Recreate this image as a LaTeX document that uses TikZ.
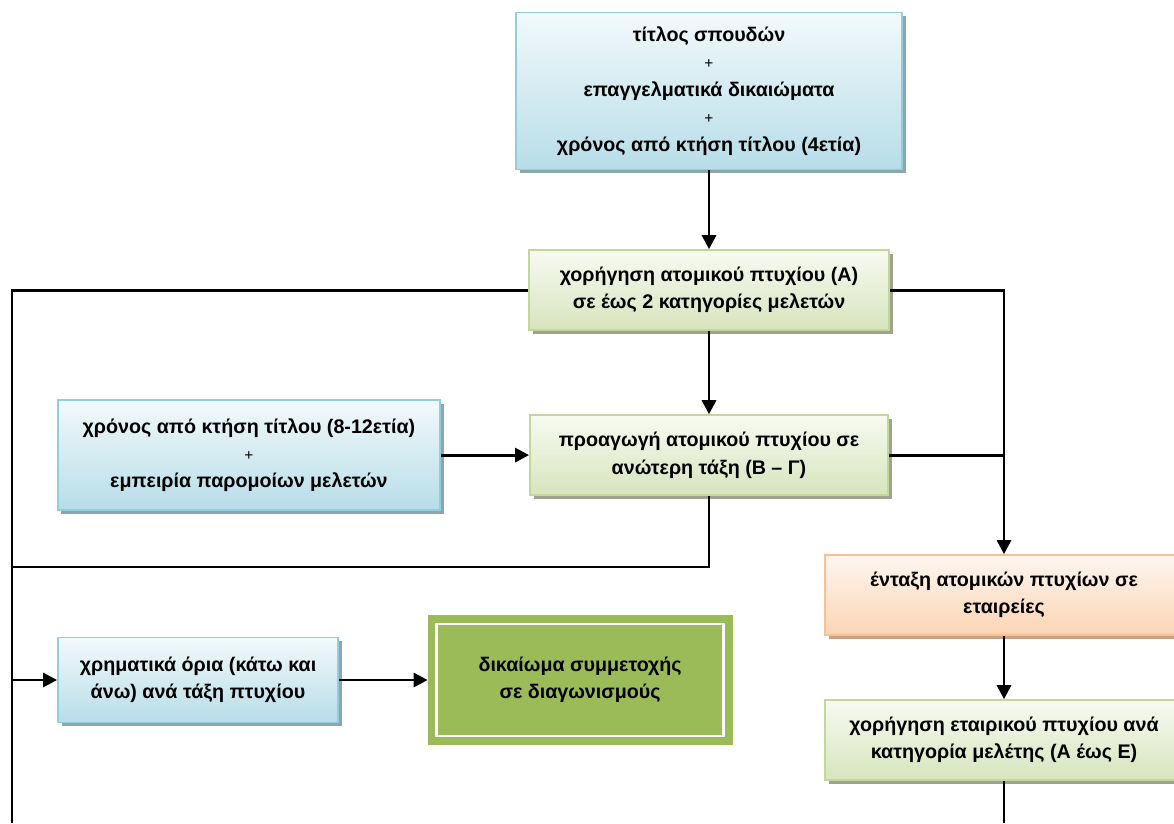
\documentclass[tikz,border=0pt]{standalone}
\usepackage{fontspec}
\setmainfont{Liberation Sans}
\usepackage{tikz}
\usetikzlibrary{shapes,arrows.meta,shadows}
\definecolor{bluetop}{HTML}{F2F9FB}
\definecolor{bluebot}{HTML}{B7DDE8}
\definecolor{blueedge}{HTML}{93CDDD}
\definecolor{blueshade}{HTML}{8BA6AE}
\definecolor{greentop}{HTML}{F7FAF1}
\definecolor{greenbot}{HTML}{D7E4BD}
\definecolor{greenedge}{HTML}{C3D69B}
\definecolor{greenshade}{HTML}{9DA38C}
\definecolor{orangetop}{HTML}{FEF6F0}
\definecolor{orangebot}{HTML}{FBD4B4}
\definecolor{orangeedge}{HTML}{FAC090}
\definecolor{orangeshade}{HTML}{C7A186}
\definecolor{olive}{HTML}{9BBB59}
\newcommand{\addsign}{{\mdseries\fontsize{11}{19.5}\selectfont +}}
\tikzstyle{box} = [rectangle, align=center, line width=1.2pt,
    font=\fontsize{14}{19.5}\selectfont\bfseries, inner sep=2pt]
\tikzstyle{blueblock} = [box, draw=blueedge, top color=bluetop, bottom color=bluebot,
    drop shadow={shadow xshift=2.6pt, shadow yshift=-2.6pt, fill=blueshade, opacity=1}]
\tikzstyle{greenblock} = [box, draw=greenedge, top color=greentop, bottom color=greenbot,
    drop shadow={shadow xshift=2.6pt, shadow yshift=-2.6pt, fill=greenshade, opacity=1}]
\tikzstyle{orangeblock} = [box, draw=orangeedge, top color=orangetop, bottom color=orangebot,
    drop shadow={shadow xshift=2.6pt, shadow yshift=-2.6pt, fill=orangeshade, opacity=1}]
\tikzstyle{goal} = [box, fill=olive, draw=olive, line width=5.4pt, double=white,
    double distance=2pt, outer sep=6.4pt]
\tikzstyle{line} = [draw, line width=2.1pt, -{Triangle[length=10pt, width=10pt]}]
\tikzstyle{plain} = [draw, line width=2.1pt]

\begin{document}
\begin{tikzpicture}[x=0.025cm, y=0.025cm, auto]
    \useasboundingbox (0,0) rectangle (1174,-823);
    % Place nodes
    \node [blueblock, minimum width=9.65cm, minimum height=3.925cm] (init) at (709,-91)
        {τίτλος σπουδών\\ \addsign\\ επαγγελματικά δικαιώματα\\ \addsign\\ χρόνος από κτήση τίτλου (4ετία)};
    \node [greenblock, minimum width=9cm, minimum height=2cm, below of=init, node distance=4.975cm] (grantA)
        {χορήγηση ατομικού πτυχίου (Α)\\σε έως 2 κατηγορίες μελετών};
    \node [greenblock, minimum width=8.95cm, minimum height=2cm, below of=grantA, node distance=4.125cm] (promote)
        {προαγωγή ατομικού πτυχίου σε\\ανώτερη τάξη (Β – Γ)};
    \node [blueblock, minimum width=9.55cm, minimum height=2.75cm, left of=promote, node distance=11.5cm] (experience)
        {χρόνος από κτήση τίτλου (8-12ετία)\\ \addsign\\ εμπειρία παρομοίων μελετών};
    \node [orangeblock, minimum width=8.95cm, minimum height=2cm] (merge) at (1004,-595)
        {ένταξη ατομικών πτυχίων σε\\εταιρείες};
    \node [greenblock, minimum width=8.95cm, minimum height=2cm, below of=merge, node distance=3.625cm] (firmgrant)
        {χορήγηση εταιρικού πτυχίου ανά\\κατηγορία μελέτης (Α έως Ε)};
    \node [blueblock, minimum width=7cm, minimum height=2.125cm] (limits) at (198,-680)
        {χρηματικά όρια (κάτω και\\άνω) ανά τάξη πτυχίου};
    \node [goal, minimum width=7.17cm, minimum height=2.8cm, right of=limits, node distance=9.55cm] (rights)
        {δικαίωμα συμμετοχής\\σε διαγωνισμούς};
    \coordinate (busend) at (12,-823);
    \coordinate (bushook) at (12,-567);
    % Draw edges
    \path [line] (init) -- (grantA);
    \path [line] (grantA) -- (promote);
    \path [line] (experience) -- (promote);
    \path [plain] (grantA.west) -| (busend);
    \path [plain] (promote.south) |- (bushook);
    \path [line] (grantA.east) -| (merge.north);
    \path [plain] (promote.east) -- (promote.east -| merge);
    \path [line] (merge) -- (firmgrant);
    \path [plain] (firmgrant.south) -- (firmgrant |- busend);
    \path [line] (limits -| busend) -- (limits);
    \path [line] (limits) -- (rights);
\end{tikzpicture}
\end{document}
